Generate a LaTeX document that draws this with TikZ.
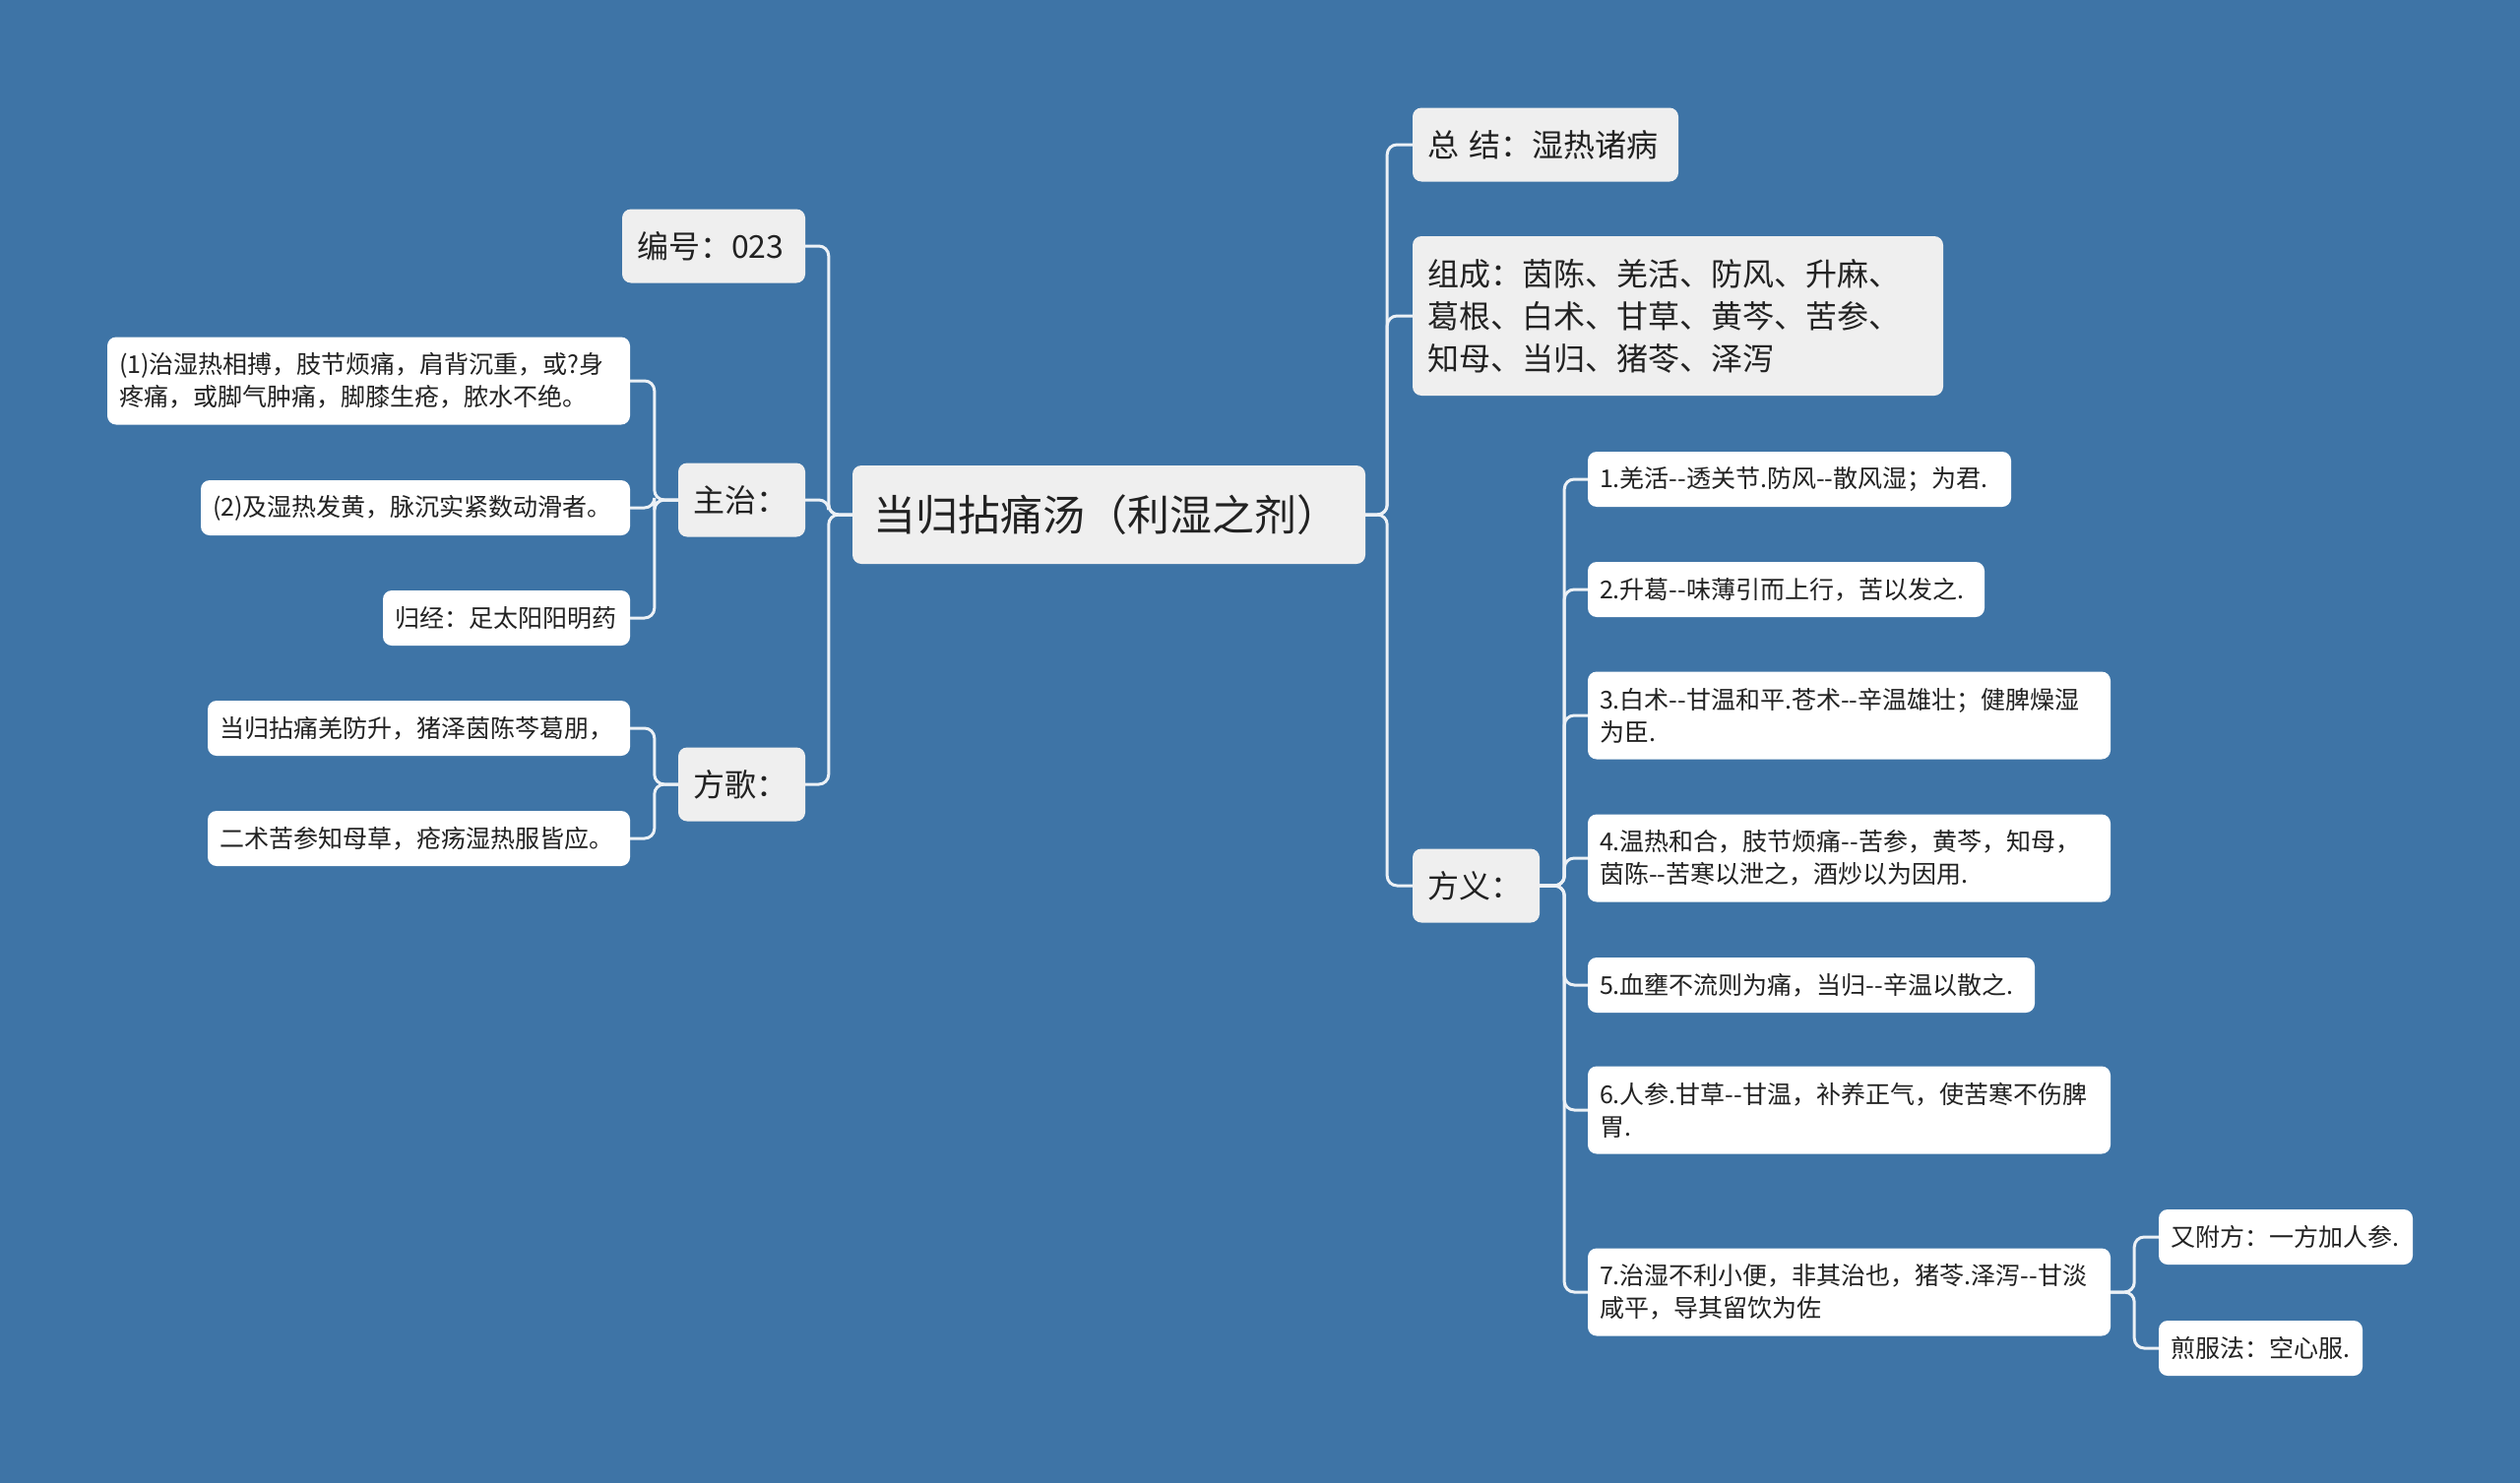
\documentclass[tikz,border=0pt]{standalone}
\usepackage{fontspec}
\setmainfont{Noto Sans CJK SC}
\definecolor{bg}{RGB}{62,116,166}
\definecolor{lvl}{RGB}{239,239,239}
\definecolor{ln}{RGB}{236,241,246}
\definecolor{tx}{RGB}{34,34,34}
\newcommand{\dd}{-{}-}
\begin{document}
\begin{tikzpicture}[x=1pt,y=-1pt,
  box/.style={rounded corners=9pt, text=tx, align=left, inner ysep=0pt, anchor=center},
  rootbox/.style={box, fill=lvl, font=\fontsize{43}{50}\selectfont, inner xsep=21pt, minimum height=100pt},
  mainbox/.style={box, fill=lvl, font=\fontsize{32}{43}\selectfont, inner xsep=15pt, minimum height=75pt},
  leafbox/.style={box, fill=white, font=\fontsize{25}{33}\selectfont, inner xsep=12pt, minimum height=56pt},
  tall/.style={minimum height=89pt},
  conn/.style={draw=ln, line width=3pt, rounded corners=10pt}]
\fill[bg] (0,0) rectangle (2560,1507);
\useasboundingbox (0,0) rectangle (2560,1507);

% root
\node[rootbox, text width=479pt] (root) at (1126.5,523) {当归拈痛汤（利湿之剂）};

% left main branches
\node[mainbox, text width=156pt] (bh) at (725,250) {编号：023};
\node[mainbox, text width=99pt] (zz) at (753.5,508) {主治：};
\node[mainbox, text width=99pt] (fg) at (753.5,797) {方歌：};

% 主治 leaves
\node[leafbox, tall, text width=507pt] (zz1) at (374.5,387) {(1)治湿热相搏，肢节烦痛，肩背沉重，或?身\\疼痛，或脚气肿痛，脚膝生疮，脓水不绝。};
\node[leafbox, text width=412pt] (zz2) at (422,516) {(2)及湿热发黄，脉沉实紧数动滑者。};
\node[leafbox, text width=227pt] (gj) at (514.5,628) {归经：足太阳阳明药};

% 方歌 leaves
\node[leafbox, text width=405pt] (fg1) at (425.5,740) {当归拈痛羌防升，猪泽茵陈芩葛朋，};
\node[leafbox, text width=405pt] (fg2) at (425.5,852) {二术苦参知母草，疮疡湿热服皆应。};

% right main branches
\node[mainbox, text width=240pt] (zj) at (1570,147) {总 结：湿热诸病};
\node[mainbox, minimum height=162pt, text width=509pt] (zc) at (1704.5,321) {组成：茵陈、羌活、防风、升麻、\\葛根、白术、甘草、黄芩、苦参、\\知母、当归、猪苓、泽泻};
\node[mainbox, text width=99pt] (fy) at (1499.5,900) {方义：};

% 方义 leaves
\node[leafbox, text width=406pt] (f1) at (1828,487) {1.羌活\dd 透关节.防风\dd 散风湿；为君.};
\node[leafbox, text width=379pt] (f2) at (1814.5,599) {2.升葛\dd 味薄引而上行，苦以发之.};
\node[leafbox, tall, text width=507pt] (f3) at (1878.5,727) {3.白术\dd 甘温和平.苍术\dd 辛温雄壮；健脾燥湿\\为臣.};
\node[leafbox, tall, text width=507pt] (f4) at (1878.5,872) {4.温热和合，肢节烦痛\dd 苦参，黄芩，知母，\\茵陈\dd 苦寒以泄之，酒炒以为因用.};
\node[leafbox, text width=430pt] (f5) at (1840,1001) {5.血壅不流则为痛，当归\dd 辛温以散之.};
\node[leafbox, tall, text width=507pt] (f6) at (1878.5,1128) {6.人参.甘草\dd 甘温，补养正气，使苦寒不伤脾\\胃.};
\node[leafbox, tall, text width=507pt] (f7) at (1878.5,1313) {7.治湿不利小便，非其治也，猪苓.泽泻\dd 甘淡\\咸平，导其留饮为佐};

% 7 leaves
\node[leafbox, text width=234pt] (yf) at (2322,1257) {又附方：一方加人参.};
\node[leafbox, text width=183pt] (jf) at (2296.5,1370) {煎服法：空心服.};

% connectors: root right
\foreach \c in {zj,zc,fy}
  \draw[conn] (root.east) -- ([xshift=22pt]root.east) |- (\c.west);
% root left
\foreach \c in {bh,zz,fg}
  \draw[conn] (root.west) -- ([xshift=-24pt]root.west) |- (\c.east);
% 主治
\foreach \c in {zz1,zz2,gj}
  \draw[conn] (zz.west) -- ([xshift=-24pt]zz.west) |- (\c.east);
% 方歌
\foreach \c in {fg1,fg2}
  \draw[conn] (fg.west) -- ([xshift=-24pt]fg.west) |- (\c.east);
% 方义
\foreach \c in {f1,f2,f3,f4,f5,f6,f7}
  \draw[conn] (fy.east) -- ([xshift=25pt]fy.east) |- (\c.west);
% 7
\foreach \c in {yf,jf}
  \draw[conn] (f7.east) -- ([xshift=24pt]f7.east) |- (\c.west);
\end{tikzpicture}
\end{document}
